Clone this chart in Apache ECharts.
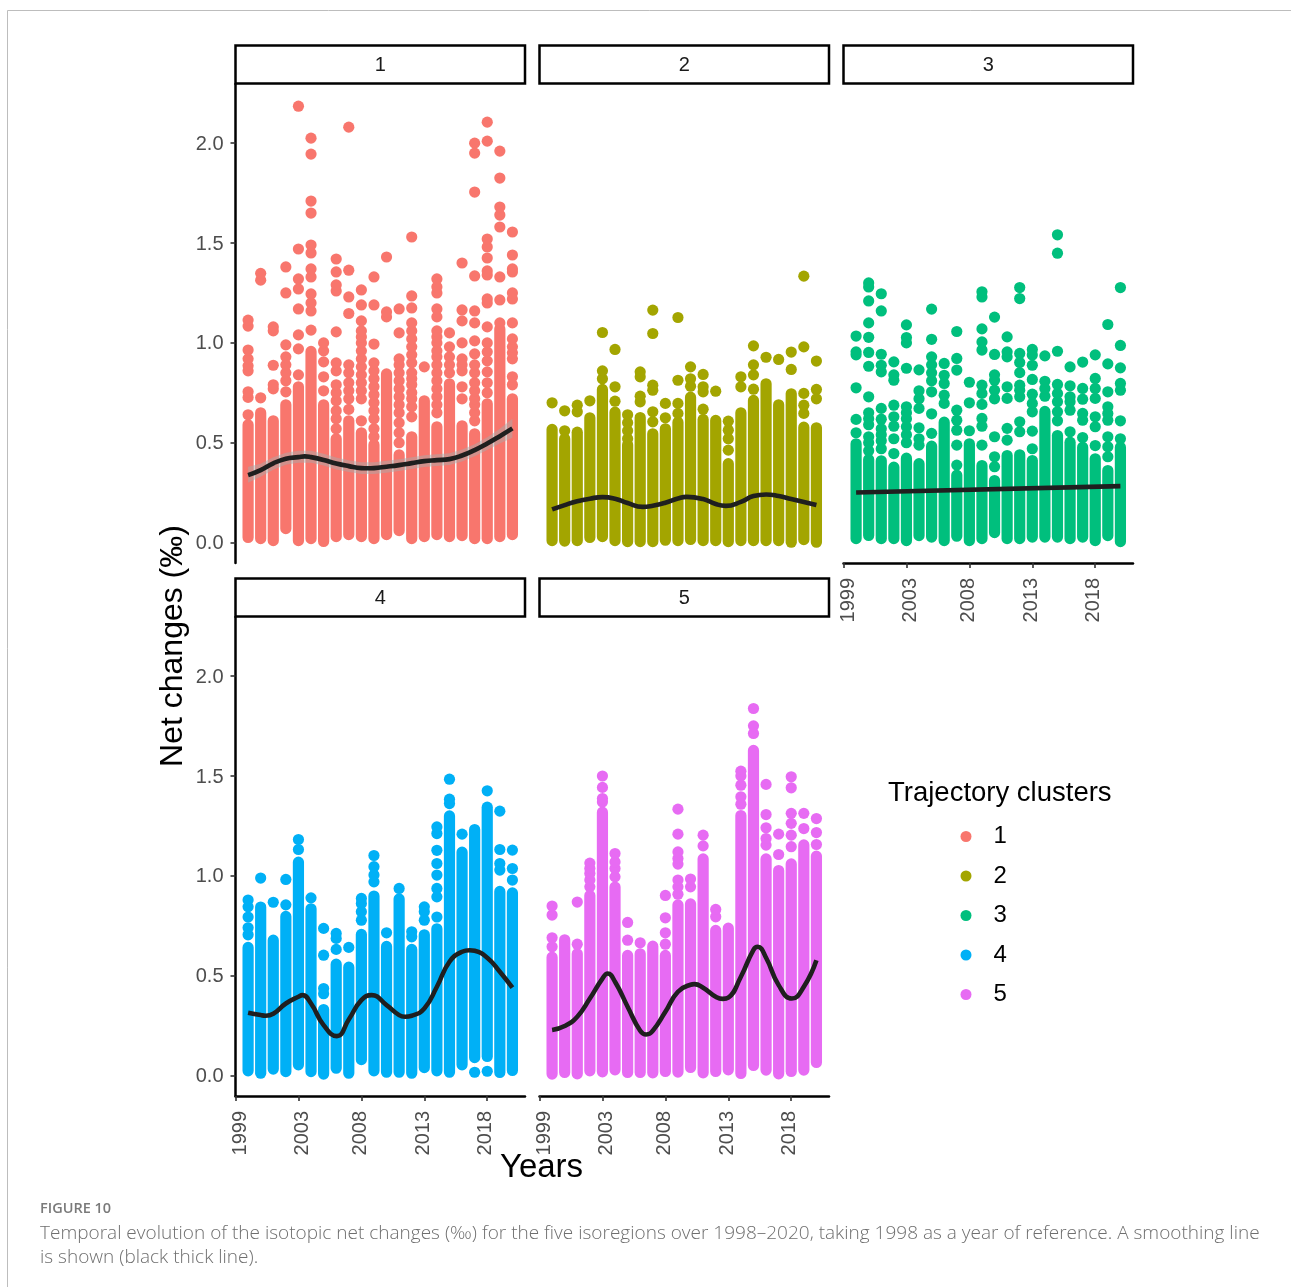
<!DOCTYPE html>
<html><head><meta charset="utf-8">
<style>html,body{margin:0;padding:0;background:#fff}#c{width:1291px;height:1287px}</style>
<script src="https://cdn.jsdelivr.net/npm/echarts@6/dist/echarts.min.js"></script>
</head><body><div id="c"></div>
<script>
const clusters=['1','2','3','4','5'];
const colors=['#F8766D','#A3A500','#00BF7D','#00B0F6','#E76BF3'];
const xTickLabels={0:'1999',5:'2003',10:'2008',15:'2013',20:'2018'};
const yTicks=[0,0.5,1,1.5,2];
// column index 1..22 = one column of observations per year; [low,high] = unbroken run of points
const solid1=[[.026,.59],[.02,.65],[.01,.61],[.07,.69],[.01,.78],[.02,.957],[.006,.69],[.03,.52],[.04,.61],[.03,.55],[.02,.49],[.04,.845],[.06,.44],[.02,.53],[.03,.71],[.04,.58],[.03,.795],[.035,.585],[.02,.545],[.02,.695],[.03,1.07],[.04,.72]];
const dots1=[[.64,.727,.755,.86,.885,.92,.964,1.084,1.114],[.725,1.314,1.348],[.77,.79,.888,1.06,1.08],[.755,.81,.85,.89,.93,.99,1.25,1.38],[.84,.97,1.04,1.17,1.27,1.32,1.47,2.185],[1.064,1.16,1.2,1.245,1.33,1.37,1.45,1.49,1.65,1.71,1.945,2.025],[.76,.83,.905,.96,1.0],[.57,.62,.66,.71,.75,.79,.86,.9,1.055,1.26,1.29,1.355,1.42],[.667,.72,.76,.8,.85,.89,1.147,1.23,1.364,2.08],[.61,.72,.76,.8,.84,.88,.92,.96,1.0,1.03,1.06,1.11,1.19,1.265],[.53,.57,.62,.66,.7,.74,.78,.82,.86,.9,.994,1.19,1.33],[1.13,1.155,1.43],[.5,.55,.6,.65,.69,.73,.77,.81,.85,.89,.92,1.05,1.17],[.63,.68,.72,.75,.79,.82,.85,.9,.94,.98,1.02,1.06,1.1,1.175,1.235,1.53],[.88],[.65,.69,.73,.77,.81,.85,.89,.93,.96,1.0,1.03,1.06,1.13,1.17,1.25,1.28,1.32],[.85,.89,.93,.98,1.05],[.72,.78,.86,.89,.92,1.0,1.11,1.165,1.4],[.61,.65,.69,.72,.76,.8,.85,.89,.945,1.01,1.1,1.16,1.335,1.755,1.95,2.0],[.75,.8,.855,.91,.955,1.0,1.08,1.2,1.22,1.34,1.36,1.425,1.48,1.52,2.01,2.105],[1.1,1.215,1.33,1.58,1.64,1.68,1.825,1.96],[.79,.83,.92,.95,.98,1.02,1.1,1.22,1.25,1.355,1.37,1.44,1.555]];
const smooth1=[[1,.338],[2,.363],[3,.397],[4,.42],[5,.428],[5.5,.432],[6,.428],[7,.414],[8,.396],[9,.383],[10,.373],[10.5,.372],[11,.373],[12,.38],[13,.388],[14,.398],[15,.408],[16,.413],[17,.418],[18,.436],[19,.463],[20,.496],[21,.533],[22,.572]];
const ribbon1=[[1,.3,.38],[2,.33,.395],[3,.365,.428],[4,.39,.45],[5,.4,.46],[6,.4,.46],[7,.386,.445],[8,.366,.426],[9,.353,.413],[10,.343,.403],[11,.343,.403],[12,.35,.41],[13,.358,.418],[14,.368,.428],[15,.378,.438],[16,.383,.443],[17,.388,.448],[18,.406,.466],[19,.433,.493],[20,.464,.528],[21,.496,.57],[22,.525,.62]];
const solid2=[[.01,.567],[.008,.52],[.01,.553],[.026,.625],[.03,.767],[.01,.653],[.005,.49],[.005,.626],[.005,.545],[.012,.57],[.01,.603],[.016,.728],[.01,.617],[.01,.612],[.005,.395],[.01,.65],[.01,.712],[.01,.795],[.01,.69],[.002,.745],[.015,.578],[.002,.575]];
const dots2=[[.70],[.56,.66],[.655,.688],[.71],[.82,.86,1.052],[.708,.78,.967],[.52,.56,.60,.64],[.705,.733,.83,.855],[.605,.655,.763,.788,1.047,1.164],[.625,.697],[.647,.697,.813,1.127],[.783,.82,.88],[.668,.755,.78,.842],[.758],[.463,.52,.563,.608],[.78,.83],[.768,.84,.89,.985],[.928],[.917],[.867,.954],[.647,.688,.747,.98,1.334],[.72,.767,.909]];
const smooth2=[[1,.166],[2,.188],[3,.207],[4,.22],[5,.228],[6,.22],[7,.198],[8.2,.179],[9,.185],[10,.2],[11,.221],[11.7,.229],[13,.218],[14,.193],[14.8,.184],[16,.204],[17,.233],[18,.241],[19,.233],[20,.218],[21,.203],[22,.188]];
const solid3=[[.02,.495],[.036,.416],[.02,.41],[.02,.378],[.01,.423],[.035,.395],[.028,.483],[.01,.603],[.032,.338],[.01,.495],[.02,.386],[.05,.311],[.02,.436],[.02,.44],[.028,.411],[.028,.657],[.028,.536],[.02,.503],[.028,.478],[.01,.42],[.035,.361],[.005,.478]];
const dots3=[[.55,.617,.775,.94,.955,1.034],[.46,.5,.53,.59,.62,.65,.73,.883,.952,1.028,1.1,1.21,1.28,1.3],[.47,.51,.54,.57,.618,.672,.855,.888,.943,1.16,1.246],[.446,.52,.583,.63,.688,.813,.84,.905],[.5,.54,.58,.62,.65,.68,.873,1.0,1.027,1.09],[.488,.52,.575,.672,.72,.76,.865],[.547,.645,.755,.81,.85,.89,.93,1.018,1.169],[.697,.738,.797,.838,.897],[.388,.488,.563,.613,.663,.864,.922,1.057],[.56,.70,.803],[.488,.583,.622,.692,.747,.788,.964,1.005,1.07,1.23,1.256],[.38,.43,.53,.72,.763,.813,.84,.942,1.129],[.513,.572,.722,.78,.93,.955,1.03],[.555,.605,.73,.763,.788,.851,.902,.947,1.222,1.277],[.47,.558,.655,.697,.743,.817,.888,.939,.967],[.733,.772,.808,.935],[.61,.655,.705,.747,.792,.958,1.449,1.541],[.555,.663,.705,.73,.785,.88],[.526,.613,.647,.718,.772,.904],[.486,.58,.63,.722,.772,.822,.94],[.43,.48,.53,.613,.647,.68,.755,.895,1.092],[.52,.61,.763,.797,.875,.987,1.277]];
const smooth3=[[1,.251],[22,.283]];
const solid4=[[.024,.642],[.012,.844],[.033,.678],[.02,.797],[.054,1.069],[.02,.835],[.008,.331],[.037,.558],[.012,.543],[.08,.707],[.024,.899],[.017,.647],[.017,.885],[.012,.632],[.04,.705],[.024,.735],[.017,1.30],[.054,1.119],[.09,1.232],[.096,1.344],[.016,.922],[.026,.915]];
const dots4=[[.705,.74,.794,.845,.879],[.989],[.868],[.855,.982],[1.132,1.182],[.89],[.41,.436,.603,.737],[.632,.687,.712],[.642],[.778,.82,.862,.887],[.97,1.004,1.046,1.102],[.715],[.937],[.695,.72],[.778,.82,.845],[.794,.895,.937,1.004,1.062,1.128,1.212,1.245],[1.362,1.384,1.484],[1.209],[.017],[.022,1.426],[1.029,1.062,1.132,1.324],[.979,1.037,1.129]];
const smooth4=[[1,.315],[2,.303],[2.4,.3],[3,.31],[4,.361],[5,.395],[5.32,.403],[6,.361],[7,.253],[8.05,.198],[9,.281],[10,.378],[10.82,.403],[12,.353],[13,.303],[13.47,.295],[14,.3],[15,.336],[16,.445],[17,.57],[18,.62],[18.6,.628],[19,.625],[20,.59],[21,.52],[22,.44]];
const solid5=[[.008,.593],[.016,.68],[.009,.61],[.024,.902],[.019,1.319],[.029,.944],[.016,.602],[.016,.61],[.014,.648],[.021,.602],[.018,.855],[.041,.86],[.014,1.085],[.021,.727],[.029,.738],[.011,1.302],[.051,1.628],[.028,1.085],[.009,1.027],[.021,1.06],[.028,1.155],[.066,1.099]];
const dots5=[[.645,.69,.804,.849],[],[.658,.869],[.945,.979,1.012,1.037,1.064],[1.37,1.387,1.443,1.50],[.995,1.037,1.07,1.112],[.678,.767],[.665],[],[.658,.715,.79,.902],[.908,.945,.979,1.059,1.087,1.12,1.209,1.334],[.945,.984],[1.15,1.204],[.795,.832],[],[1.359,1.396,1.454,1.5,1.524],[1.713,1.751,1.838],[1.154,1.187,1.241,1.307,1.458],[1.107,1.209],[1.146,1.204,1.263,1.313,1.441,1.496],[1.237,1.313],[1.157,1.217,1.287]];
const smooth5=[[1,.228],[2,.248],[3,.295],[4,.386],[5,.486],[5.42,.511],[6,.47],[7,.345],[8,.225],[8.47,.206],[9,.225],[10,.32],[11,.42],[12,.455],[12.3,.458],[13,.44],[14,.395],[14.56,.384],[15,.39],[16,.495],[17,.63],[17.34,.645],[18,.59],[19,.453],[20.05,.386],[21,.445],[22,.578]];
const solids=[solid1,solid2,solid3,solid4,solid5], dots=[dots1,dots2,dots3,dots4,dots5], smooths=[smooth1,smooth2,smooth3,smooth4,smooth5];
const captionLabel='FIGURE 10';
const captionLines=['Temporal evolution of the isotopic net changes (‰) for the five isoregions over 1998–2020, taking 1998 as a year of reference. A smoothing line','is shown (black thick line).'];

const F='"Liberation Sans",Arial,sans-serif', CF='"Open Sans",sans-serif';
const panelPos=[[235.5,84],[539.5,84],[843.5,84],[235.5,617],[539.5,617]];
const PW=289.5,PH=479,DOT=11.2;
const showX=[false,false,true,true,true],showY=[true,false,false,true,false];
const xLabelAt=[0.405,5.34,9.92,14.9,19.9]; // the source figure's labels sit slightly off their ticks
const grid=[],xAxis=[],yAxis=[],series=[],graphic=[];
panelPos.forEach((p,i)=>{
  grid.push({left:p[0],top:p[1],width:PW,height:PH,containLabel:false});
  xAxis.push({gridIndex:i,type:'value',min:0,max:23,show:showX[i],splitLine:{show:false},
    axisLine:{lineStyle:{color:'#000',width:2.5},onZero:false},
    axisTick:{customValues:[0,5,10,15,20],length:5,lineStyle:{color:'#333',width:1.6}},
    axisLabel:{customValues:xLabelAt,rotate:90,margin:15,color:'#4D4D4D',fontFamily:F,fontSize:20,formatter:v=>xTickLabels[Math.round(v/5)*5]}});
  yAxis.push({gridIndex:i,type:'value',min:-0.102,max:2.296,show:showY[i],splitLine:{show:false},
    axisLine:{lineStyle:{color:'#000',width:2.5},onZero:false},
    axisTick:{customValues:yTicks,length:5,lineStyle:{color:'#333',width:1.6}},
    axisLabel:{customValues:yTicks,margin:12,verticalAlign:'top',lineHeight:2,color:'#4D4D4D',fontFamily:F,fontSize:20,formatter:v=>v.toFixed(1)}});
  const col=colors[i];
  series.push({type:'custom',name:clusters[i],xAxisIndex:i,yAxisIndex:i,z:2,clip:false,itemStyle:{color:col},
    data:solids[i].map((s,k)=>[k+1,s[0],s[1]]),encode:{x:0,y:[1,2]},
    renderItem:(params,api)=>{
      const a=api.coord([api.value(0),api.value(1)]),b=api.coord([api.value(0),api.value(2)]);
      return {type:'rect',shape:{x:a[0]-DOT/2,y:b[1]-DOT/2,width:DOT,height:a[1]-b[1]+DOT,r:DOT/2},style:{fill:col}};
    }});
  const pts=[];dots[i].forEach((vals,k)=>vals.forEach(v=>pts.push([k+1,v])));
  series.push({type:'scatter',name:clusters[i],xAxisIndex:i,yAxisIndex:i,z:2,clip:false,symbolSize:DOT,itemStyle:{color:col,opacity:1},data:pts});
  series.push({type:'line',name:'smooth'+clusters[i],xAxisIndex:i,yAxisIndex:i,z:5,smooth:0.5,showSymbol:false,symbol:'none',
    lineStyle:{color:'#1f1f1f',width:4.6,cap:'butt'},data:smooths[i],legendHoverLink:false});
  graphic.push({type:'rect',shape:{x:p[0],y:p[1]-38.5,width:PW,height:38},style:{fill:'#fff',stroke:'#000',lineWidth:2.5}});
  graphic.push({type:'text',x:p[0]+PW/2,y:p[1]-18.5,style:{text:clusters[i],fontFamily:F,fontSize:20,fill:'#1a1a1a',align:'center',verticalAlign:'middle'}});
});
// confidence ribbon, cluster 1
series.push({type:'custom',name:'ribbon1',xAxisIndex:0,yAxisIndex:0,z:4,silent:true,
  data:ribbon1,encode:{x:0,y:[1,2]},
  renderItem:(params,api)=>{
    if(params.dataIndex!==0) return {type:'group',children:[]};
    const up=[],lo=[];
    ribbon1.forEach(r=>{up.push(api.coord([r[0],r[2]]));lo.unshift(api.coord([r[0],r[1]]));});
    return {type:'polygon',shape:{points:up.concat(lo)},style:{fill:'rgba(170,170,170,0.5)'}};
  }});
graphic.push({type:'text',rotation:Math.PI/2,x:173,y:646,style:{text:'Net changes (‰)',fontFamily:F,fontSize:32,fill:'#000',align:'center',verticalAlign:'middle'}});
graphic.push({type:'text',x:541.5,y:1168,style:{text:'Years',fontFamily:F,fontSize:33,fill:'#000',align:'center',verticalAlign:'middle'}});
graphic.push({type:'text',x:888,y:793,style:{text:'Trajectory clusters',fontFamily:F,fontSize:27.5,fill:'#000',align:'left',verticalAlign:'middle'}});
graphic.push({type:'line',shape:{x1:7.5,y1:10.5,x2:7.5,y2:1287},style:{stroke:'#bdbdbd',lineWidth:1}});
graphic.push({type:'line',shape:{x1:7.5,y1:10.5,x2:1291,y2:10.5},style:{stroke:'#bdbdbd',lineWidth:1}});
graphic.push({type:'text',x:40,y:1208.5,style:{text:captionLabel,fontFamily:CF,fontSize:14.5,fontWeight:600,fill:'#7a7a7a',align:'left',verticalAlign:'middle'}});
captionLines.forEach((t,i)=>graphic.push({type:'text',x:40,y:1234+i*24,scaleX:1.056,originX:0,style:{text:t,x:0,fontFamily:CF,fontSize:18,fontWeight:300,fill:'#6f6f6f',align:'left',verticalAlign:'middle'}}));

const chart=echarts.init(document.getElementById('c'),null,{renderer:'canvas',width:1291,height:1287});
chart.setOption({animation:false,backgroundColor:'#fff',grid,xAxis,yAxis,series,graphic,
  legend:{data:clusters.map(n=>({name:n,icon:'circle'})),orient:'vertical',left:955.5,top:819.5,itemWidth:11,itemHeight:11,itemGap:15.5,selectedMode:false,
    textStyle:{fontFamily:F,fontSize:24,color:'#000',padding:[0,0,0,17]}}});
</script></body></html>
